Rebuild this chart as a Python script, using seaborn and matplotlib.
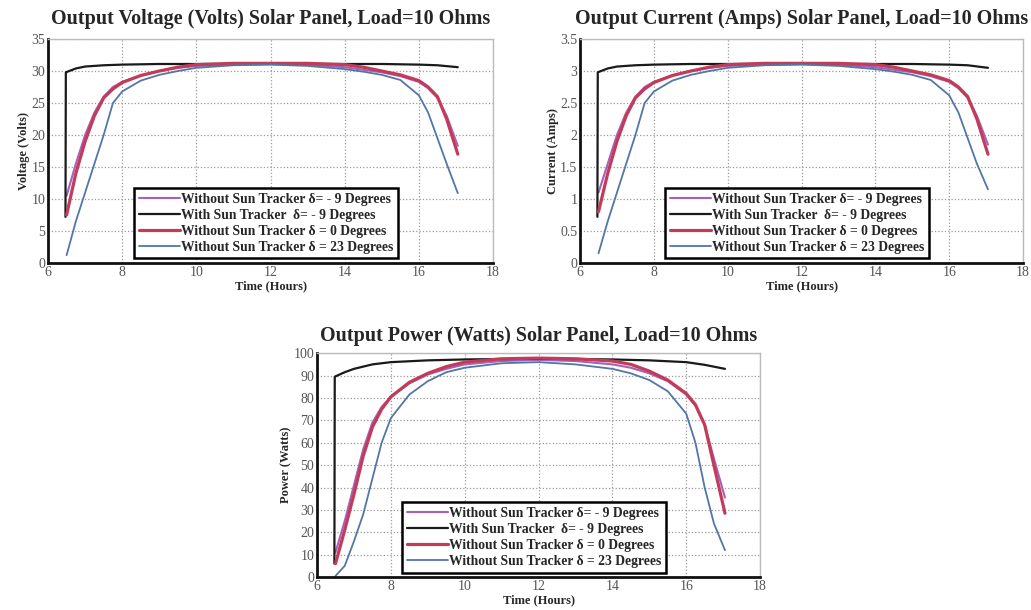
import numpy as np
import pandas as pd
import matplotlib
matplotlib.use('Agg')
import matplotlib.pyplot as plt
import seaborn as sns

sns.set_style('whitegrid')
plt.rcParams['font.family'] = ['Liberation Serif', 'DejaVu Serif']

# time samples (hours)
t_fixed = [6.5, 6.75, 7, 7.25, 7.5, 7.75, 8, 8.5, 9, 9.5, 10, 11, 12, 13, 14,
           14.5, 15, 15.5, 16, 16.25, 16.5, 16.75, 17.05]
t_track = [6.47, 6.48, 6.75, 7, 7.5, 8, 9, 10, 11, 12, 13, 14, 15, 16, 16.5, 17.05]

labels = ['Without Sun Tracker δ= - 9 Degrees',
          'With Sun Tracker  δ= - 9 Degrees',
          'Without Sun Tracker δ = 0 Degrees',
          'Without Sun Tracker δ = 23 Degrees']
colors = ['#a860b8', '#1a1a1a', '#c23c5a', '#5276a6']

# voltage (volts)
v_m9 = [10.5, 15.5, 20, 23.5, 26, 27.5, 28.3, 29.3, 30.0, 30.5, 30.8, 31.0, 31.1,
        31.0, 30.6, 30.2, 29.8, 29.2, 28.3, 27.3, 25.8, 23.0, 18.3]
v_track = [7.2, 29.8, 30.4, 30.7, 30.9, 31.0, 31.1, 31.1, 31.1, 31.1, 31.1, 31.1,
           31.1, 31.0, 30.9, 30.6]
v_0 = [7.5, 14, 19, 23, 25.8, 27.2, 28.2, 29.3, 30.0, 30.6, 31.0, 31.2, 31.2,
       31.2, 31.0, 30.6, 30.0, 29.4, 28.5, 27.5, 26.0, 22.5, 17.0]
v_23 = [1.2, 6.5, 11, 15.5, 20, 25, 26.8, 28.5, 29.4, 30.0, 30.5, 30.9, 31.0,
        30.8, 30.3, 29.9, 29.4, 28.6, 26.2, 23.5, 19.5, 15.5, 10.9]

# current (amps)
i_m9 = [1.1, 1.55, 2.0, 2.35, 2.6, 2.75, 2.83, 2.93, 3.0, 3.05, 3.08, 3.1, 3.11,
        3.1, 3.06, 3.02, 2.98, 2.92, 2.83, 2.73, 2.58, 2.3, 1.85]
i_track = [0.72, 2.98, 3.04, 3.07, 3.09, 3.1, 3.11, 3.11, 3.11, 3.11, 3.11, 3.11,
           3.11, 3.1, 3.09, 3.05]
i_0 = [0.8, 1.4, 1.9, 2.3, 2.58, 2.72, 2.82, 2.93, 3.0, 3.06, 3.1, 3.12, 3.12,
       3.12, 3.1, 3.06, 3.0, 2.94, 2.85, 2.75, 2.6, 2.25, 1.7]
i_23 = [0.15, 0.65, 1.1, 1.55, 2.0, 2.5, 2.68, 2.85, 2.94, 3.0, 3.05, 3.09, 3.1,
        3.08, 3.03, 2.99, 2.94, 2.86, 2.62, 2.35, 1.95, 1.55, 1.15]

# power (watts)
p_m9 = [11, 25, 41, 57, 69, 76, 80.5, 86.5, 90.5, 93, 95, 96.5, 97, 96.5, 95,
        93.5, 91, 87.5, 81.5, 76.5, 68, 53, 35.5]
p_track = [6, 89.5, 91.5, 93, 95, 96, 96.8, 97.2, 97.4, 97.5, 97.4, 97.2, 96.8,
           96, 94.8, 93]
p_0 = [6, 21, 37, 54, 67, 75, 80.5, 87, 91, 94, 96, 97.5, 97.8, 97.5, 96.5, 95,
       92, 88, 82, 77, 68, 50, 28.5]
p_23 = [0.5, 5, 16, 28, 44, 60, 71, 81.5, 87.5, 91.5, 93.5, 95.5, 96, 95, 93,
        91, 88, 83, 73, 60, 40, 24, 12]


def draw(ax, series, ymax, ystep, ylabel, title, tpad):
    times = [t_fixed, t_track, t_fixed, t_fixed]
    widths = [1.5, 1.6, 2.3, 1.3]
    for k in range(4):
        sns.lineplot(x=times[k], y=series[k], ax=ax, color=colors[k],
                     lw=widths[k], sort=False, label=labels[k])
    ax.set_xlim(6, 18)
    ax.set_ylim(0, ymax)
    ax.set_xticks(np.arange(6, 19, 2))
    ticks = np.arange(0, ymax + ystep / 2, ystep)
    ax.set_yticks(ticks)
    ax.set_yticklabels(['%g' % v for v in ticks])
    ax.grid(True, color='#9a9a9a', ls=':', lw=0.9)
    ax.tick_params(labelsize=10, colors='#555555', length=0, pad=2)
    ax.set_xlabel('Time (Hours)', fontsize=9, fontweight='bold', labelpad=1)
    ax.set_ylabel(ylabel, fontsize=9, fontweight='bold', labelpad=1)
    ax.set_title(title, fontsize=14.5, fontweight='bold', pad=tpad)
    for s in ['top', 'right']:
        ax.spines[s].set_color('#bbbbbb')
        ax.spines[s].set_linewidth(1)
    for s in ['left', 'bottom']:
        ax.spines[s].set_color('#111111')
        ax.spines[s].set_linewidth(2)
    leg = ax.legend(loc='lower center', bbox_to_anchor=(0.49, 0.02),
                    prop={'weight': 'bold', 'size': 9.8}, frameon=True,
                    fancybox=False, framealpha=1, handlelength=3.0,
                    handletextpad=0.1, borderpad=0.35, labelspacing=0.22,
                    borderaxespad=0)
    leg.get_frame().set_edgecolor('black')
    leg.get_frame().set_linewidth(1.8)


fig = plt.figure(figsize=(10.31, 6.10), dpi=100)
ax1 = fig.add_axes([0.0466, 0.569, 0.4316, 0.367])
ax2 = fig.add_axes([0.5626, 0.569, 0.4297, 0.367])
ax3 = fig.add_axes([0.3075, 0.054, 0.4297, 0.367])

draw(ax1, [v_m9, v_track, v_0, v_23], 35, 5, 'Voltage (Volts)',
     'Output Voltage (Volts) Solar Panel, Load=10 Ohms', 11)
draw(ax2, [i_m9, i_track, i_0, i_23], 3.5, 0.5, 'Current (Amps)',
     'Output Current (Amps) Solar Panel, Load=10 Ohms', 11)
draw(ax3, [p_m9, p_track, p_0, p_23], 100, 10, 'Power (Watts)',
     'Output Power (Watts) Solar Panel, Load=10 Ohms', 9)

plt.savefig('out.png', dpi=100)
